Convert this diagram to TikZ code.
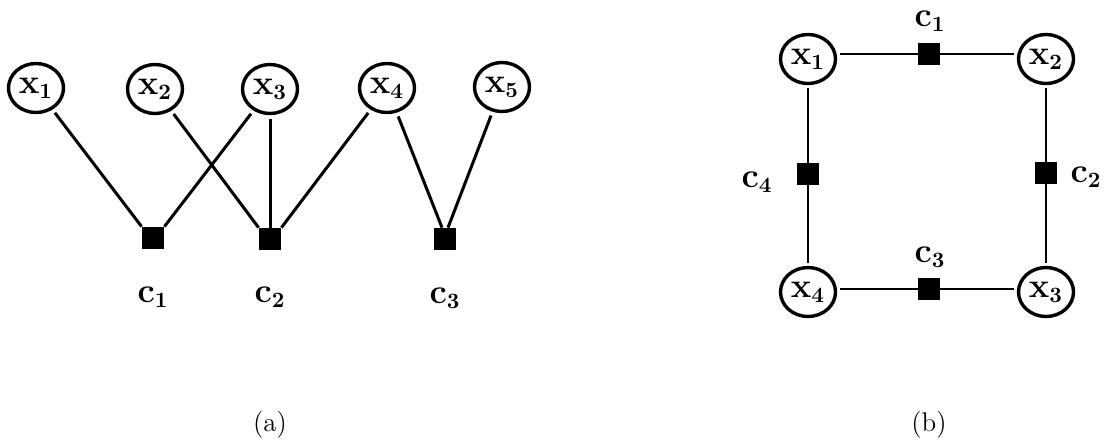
\documentclass[tikz,border=0pt]{standalone}
\usetikzlibrary{shapes.geometric}
\begin{document}
\begin{tikzpicture}[x=0.5pt,y=-0.5pt,
  var/.style={ellipse, draw, line width=1.7pt, minimum width=27.5pt,
    minimum height=24.5pt, inner sep=0pt,
    font=\fontsize{16}{19}\selectfont\boldmath},
  fac/.style={rectangle, fill=black, minimum size=11pt, inner sep=0pt},
  lbl/.style={inner sep=0pt, font=\fontsize{16}{19}\selectfont\boldmath},
  subcap/.style={inner sep=0pt, font=\fontsize{13.5}{16}\selectfont},
  edgeA/.style={line width=1.5pt, shorten <=2pt},
  edgeB/.style={line width=1.1pt, shorten <=1.5pt, shorten >=1.5pt}]
\useasboundingbox (0,0) rectangle (1106,445);

% ---- (a): chain factor graph ----
\node[var] (a1) at (36,88)  {$\mathbf{x}_1$};
\node[var] (a2) at (155,89) {$\mathbf{x}_2$};
\node[var] (a3) at (270,89) {$\mathbf{x}_3$};
\node[var] (a4) at (387,88) {$\mathbf{x}_4$};
\node[var] (a5) at (502,87) {$\mathbf{x}_5$};

\node[fac] (ac1) at (153,238) {};
\node[fac] (ac2) at (270,239) {};
\node[fac] (ac3) at (445,239) {};

\node[lbl] (la1) at (153,297) {$\mathbf{c}_1$};
\node[lbl] (la2) at (270,297) {$\mathbf{c}_2$};
\node[lbl] (la3) at (445,298) {$\mathbf{c}_3$};

\draw[edgeA] (a1) -- (ac1.north west);
\draw[edgeA] (a3) -- (ac1.north east);
\draw[edgeA] (a2) -- (ac2.north west);
\draw[edgeA] (a3) -- (ac2.north);
\draw[edgeA] (a4) -- (ac2.north east);
\draw[edgeA] (a4) -- ([xshift=-1.5pt]ac3.north);
\draw[edgeA] (a5) -- ([xshift=1.5pt]ac3.north);

\node[subcap] (capa) at (270,425) {(a)};

% ---- (b): cycle factor graph ----
\node[var] (b1) at (808,59)   {$\mathbf{x}_1$};
\node[var] (b2) at (1046,59)  {$\mathbf{x}_2$};
\node[var] (b3) at (1046,292) {$\mathbf{x}_3$};
\node[var] (b4) at (808,292)  {$\mathbf{x}_4$};

\node[fac] (bc1) at (929,54)  {};
\node[fac] (bc2) at (1046,173) {};
\node[fac] (bc3) at (929,289) {};
\node[fac] (bc4) at (808,174) {};

\node[lbl] (lb1) at (930,21)  {$\mathbf{c}_1$};
\node[lbl] (lb2) at (1086,177) {$\mathbf{c}_2$};
\node[lbl] (lb3) at (930,257) {$\mathbf{c}_3$};
\node[lbl] (lb4) at (757,182) {$\mathbf{c}_4$};

\draw[edgeB] (bc1 -| b1.east) -- (bc1 -| b2.west);
\draw[edgeB] (bc3 -| b4.east) -- (bc3 -| b3.west);
\draw[edgeB] (b1.south) -- (b4.north);
\draw[edgeB] (b2.south) -- (b3.north);

\node[subcap] (capb) at (929,425) {(b)};
\end{tikzpicture}
\end{document}
